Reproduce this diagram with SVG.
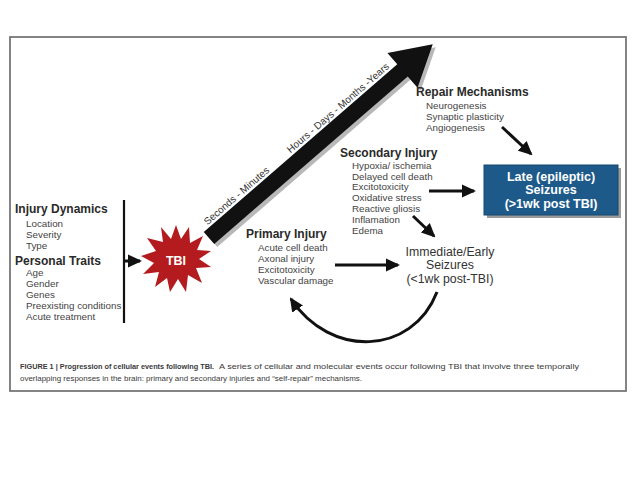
<svg xmlns="http://www.w3.org/2000/svg" width="638" height="479" viewBox="0 0 638 479">
<defs>
<marker id="ah" markerUnits="userSpaceOnUse" markerWidth="14" markerHeight="14" viewBox="0 0 14 14" refX="12" refY="7" orient="auto">
<path d="M0,0.5 L14,7 L0,13.5 Z" fill="#111"/>
</marker>
<style>
.t{font-family:"Liberation Sans",Arial,sans-serif;}
.h{font-family:"Liberation Sans",Arial,sans-serif;font-weight:bold;font-size:12px;fill:#2a2a2a;}
.i{font-family:"Liberation Sans",Arial,sans-serif;font-size:9.8px;fill:#444;}
.c{stroke:#111;stroke-width:3;fill:none;marker-end:url(#ah);}
.bx{font-family:"Liberation Sans",Arial,sans-serif;font-weight:bold;font-size:12.5px;fill:#fff;text-anchor:middle;}
.cap{font-family:"Liberation Sans",Arial,sans-serif;font-size:7px;fill:#3a3a3a;}
</style>
</defs>
<rect width="638" height="479" fill="#fff"/>
<rect x="10" y="37" width="616" height="354" fill="none" stroke="#777" stroke-width="1.8"/>

<g id="timeline">
<g transform="translate(212,241) rotate(-40.9)">
<polygon points="0,-8 256,-8 256,-23 296,0 256,23 256,8 0,8" fill="#9a9a9a" opacity="0.7"/>
</g>
<g transform="translate(209,238) rotate(-40.9)">
<polygon points="0,-8 256,-8 256,-23 296,0 256,23 256,8 0,8" fill="#111"/>
<text class="t" x="7" y="-10.5" font-size="10" fill="#333">Seconds - Minutes</text>
<text class="t" x="117" y="-10.5" font-size="10" fill="#333">Hours - Days - Months -Years</text>
</g>
</g>

<g id="factors">
<text class="h" x="15" y="213">Injury Dynamics</text>
<text class="i" x="26" y="227">Location</text>
<text class="i" x="26" y="238">Severity</text>
<text class="i" x="26" y="249">Type</text>
<text class="h" x="15" y="265" font-size="12.5">Personal Traits</text>
<text class="i" x="26" y="276">Age</text>
<text class="i" x="26" y="287">Gender</text>
<text class="i" x="26" y="298">Genes</text>
<text class="i" x="26" y="309">Preexisting conditions</text>
<text class="i" x="26" y="320">Acute treatment</text>
<line x1="124" y1="200" x2="124" y2="323" stroke="#111" stroke-width="2.2"/>
</g>

<g id="tbi">
<polygon fill="#b31b1e" points="176,225 181,239 189,227 190,243 203,236 197,250 211,251 199,259 211,267 196,268 202,283 188,275 186,292 178,279 170,292 167,278 155,287 159,272 143,274 154,263 141,256 156,251 147,238 163,242 161,227 171,239"/>
<text class="bx" x="176" y="265" font-size="12" fill="#f4e6e6">TBI</text>
</g>

<g id="primary">
<text class="h" x="246" y="238">Primary Injury</text>
<text class="i" x="258" y="251">Acute cell death</text>
<text class="i" x="258" y="262">Axonal injury</text>
<text class="i" x="258" y="273">Excitotoxicity</text>
<text class="i" x="258" y="284">Vascular damage</text>
</g>

<g id="secondary">
<text class="h" x="340" y="157">Secondary Injury</text>
<text class="i" x="352" y="169">Hypoxia/ ischemia</text>
<text class="i" x="352" y="180">Delayed cell death</text>
<text class="i" x="352" y="190">Excitotoxicity</text>
<text class="i" x="352" y="201">Oxidative stress</text>
<text class="i" x="352" y="212">Reactive gliosis</text>
<text class="i" x="352" y="223">Inflamation</text>
<text class="i" x="352" y="234">Edema</text>
</g>

<g id="repair">
<text class="h" x="416" y="96">Repair Mechanisms</text>
<text class="i" x="426" y="109">Neurogenesis</text>
<text class="i" x="426" y="120">Synaptic plasticity</text>
<text class="i" x="426" y="131">Angiogenesis</text>
</g>

<g id="late">
<rect x="487" y="168" width="134" height="50" fill="#9a9a9a"/>
<rect x="484" y="165" width="134" height="50" fill="#1d5a8a" stroke="#17476e" stroke-width="1"/>
<text class="bx" x="551" y="181">Late (epileptic)</text>
<text class="bx" x="551" y="194">Seizures</text>
<text class="bx" x="551" y="208">(&gt;1wk post TBI)</text>
</g>

<g id="early">
<text class="t" x="450" y="256" font-size="12.3" fill="#333" text-anchor="middle">Immediate/Early</text>
<text class="t" x="450" y="269" font-size="12.3" fill="#333" text-anchor="middle">Seizures</text>
<text class="t" x="450" y="283" font-size="12.3" fill="#333" text-anchor="middle">(&lt;1wk post-TBI)</text>
</g>

<g id="connectors">
<line class="c" x1="125" y1="261" x2="140" y2="261"/>
<line class="c" x1="335" y1="265" x2="398" y2="265"/>
<line class="c" x1="429" y1="191" x2="474" y2="191"/>
<line class="c" x1="502" y1="127" x2="531" y2="154"/>
<line class="c" x1="413" y1="216" x2="434" y2="236"/>
<path class="c" d="M437,292 C412,356 330,358 291,299"/>
</g>

<g id="caption">
<text class="cap" x="20" y="369" font-weight="bold" textLength="194" lengthAdjust="spacingAndGlyphs">FIGURE 1 | Progression of cellular events following TBI.</text>
<text class="cap" x="219" y="369" textLength="360" lengthAdjust="spacingAndGlyphs">A series of cellular and molecular events occur following TBI that involve three temporally</text>
<text class="cap" x="20" y="381" textLength="342" lengthAdjust="spacingAndGlyphs">overlapping responses in the brain: primary and secondary injuries and “self-repair” mechanisms.</text>
</g>
</svg>
